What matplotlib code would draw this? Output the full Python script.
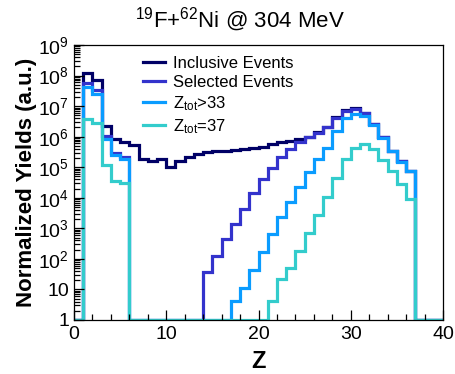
import numpy as np
import matplotlib
matplotlib.use("Agg")
import matplotlib.pyplot as plt
from matplotlib.ticker import FixedLocator, LogLocator, FuncFormatter, MultipleLocator

plt.rcParams["font.family"] = ["Liberation Sans", "DejaVu Sans"]
plt.rcParams["mathtext.fontset"] = "custom"
plt.rcParams["mathtext.rm"] = "Liberation Sans"
plt.rcParams["mathtext.it"] = "Liberation Sans:italic"
plt.rcParams["mathtext.bf"] = "Liberation Sans:bold"

# Z bins 0..39 (width 1), yields, 0 = empty bin
z_edges = np.arange(0, 41)

inclusive = [0, 1.25e8, 7.1e7, 2.3e6, 8.3e5, 6.5e5, 5.3e5, 1.8e5, 1.55e5, 1.8e5,
             1.0e5, 1.6e5, 2.2e5, 2.8e5, 3.2e5, 3.3e5, 3.5e5, 3.6e5, 4.0e5, 4.3e5,
             4.7e5, 5.6e5, 6.5e5, 7.0e5, 8.3e5, 9.8e5, 1.4e6, 2.1e6, 4.3e6, 7.2e6,
             8.9e6, 6.0e6, 2.6e6, 9.5e5, 3.4e5, 1.65e5, 7.6e4, 0, 0, 0]

selected = [0, 5.9e7, 3.3e7, 1.05e6, 3.0e5, 2.2e5, 0, 0, 0, 0,
            0, 0, 0, 0, 38, 126, 450, 1.4e3, 4.3e3, 1.4e4,
            4.1e4, 9.3e4, 2.1e5, 3.9e5, 6.5e5, 9.5e5, 1.35e6, 2.0e6, 4.2e6, 6.9e6,
            8.3e6, 5.8e6, 2.55e6, 9.4e5, 3.4e5, 1.6e5, 7.5e4, 0, 0, 0]

ztot_gt33 = [0, 4.2e7, 2.45e7, 8.3e5, 2.5e5, 1.8e5, 0, 0, 0, 0,
             0, 0, 0, 0, 0, 0, 0, 4.3, 11, 42,
             165, 650, 2.3e3, 7.1e3, 2.2e4, 6.8e4, 1.8e5, 4.4e5, 1.55e6, 4.0e6,
             5.5e6, 4.9e6, 2.5e6, 9.3e5, 3.4e5, 1.5e5, 7.6e4, 0, 0, 0]

ztot_eq37 = [0, 3.9e6, 2.8e6, 1.15e5, 3.5e4, 3.0e4, 0, 0, 0, 0,
             0, 0, 0, 0, 0, 0, 0, 0, 0, 0,
             0, 4.3, 22, 52, 186, 690, 2.7e3, 1.1e4, 4.3e4, 1.8e5,
             4.4e5, 5.6e5, 3.9e5, 1.7e5, 7.6e4, 2.75e4, 8.9e3, 0, 0, 0]

labels = ["Inclusive Events", "Selected Events",
          r"Z$_{\mathrm{tot}}$>33", r"Z$_{\mathrm{tot}}$=37"]
colors = ["#000066", "#3333cc", "#0a9cff", "#33cccc"]

ymin, ymax = 1, 1e9

fig = plt.figure(figsize=(4.55, 3.74), dpi=100)
ax = fig.add_axes([74 / 455, 1 - 320 / 374, 369 / 455, 275 / 374])

for vals, lab, col in zip([inclusive, selected, ztot_gt33, ztot_eq37], labels, colors):
    v = np.array(vals, dtype=float)
    v = np.where(v > 0, v, ymin)
    ax.stairs(v, z_edges, baseline=ymin, color=col, lw=2.3, label=lab)

ax.set_yscale("log")
ax.set_xlim(0, 40)
ax.set_ylim(ymin, ymax)

def ylab(y, pos):
    if y == 1:
        return "1"
    if y == 10:
        return "10"
    return r"$\mathdefault{10^{%d}}$" % round(np.log10(y))

ax.yaxis.set_major_locator(FixedLocator([10.0 ** k for k in range(10)]))
ax.yaxis.set_major_formatter(FuncFormatter(ylab))
ax.yaxis.set_minor_locator(LogLocator(base=10, subs=np.arange(2, 10), numticks=20))
ax.xaxis.set_major_locator(MultipleLocator(10))
ax.xaxis.set_minor_locator(MultipleLocator(2))

ax.tick_params(which="both", direction="in", top=False, right=False, labelsize=14, width=0.9)
ax.tick_params(which="major", length=7)
ax.tick_params(which="minor", length=4)
ax.tick_params(axis="x", pad=4)
for s in ax.spines.values():
    s.set_linewidth(0.9)

ax.set_xlabel("Z", fontsize=17, fontweight="bold", labelpad=5)
ax.set_ylabel("Normalized Yields (a.u.)", fontsize=16, fontweight="bold", labelpad=1)

fig.text(240 / 455, 1 - 20 / 374, r"$^{19}$F+$^{62}$Ni @ 304 MeV", ha="center", va="center", fontsize=16)

ax.legend(loc="upper left", bbox_to_anchor=(0.17, 0.985), frameon=False, fontsize=12,
          handlelength=1.3, handletextpad=0.5, labelspacing=0.25, borderaxespad=0)

fig.savefig("out.png", dpi=100)
